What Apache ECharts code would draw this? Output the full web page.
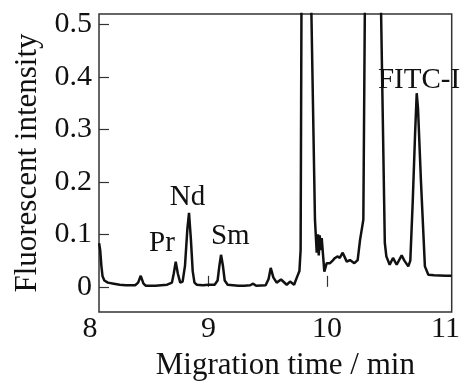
<!DOCTYPE html>
<html>
<head>
<meta charset="utf-8">
<script src="https://cdn.jsdelivr.net/npm/echarts@6/dist/echarts.min.js"></script>
<style>
  html, body { margin: 0; padding: 0; background: #fff; }
  #chart { width: 463px; height: 386px; }
</style>
</head>
<body>
<div id="chart"></div>
<script>
// migration time (min) and fluorescent intensity
const timeMin = [
  8.076, 8.085, 8.095, 8.105, 8.12, 8.15, 8.2, 8.25, 8.3, 8.38,
  8.405, 8.427, 8.45, 8.47, 8.55, 8.65, 8.69, 8.705, 8.722, 8.74,
  8.76, 8.78, 8.8, 8.82, 8.834, 8.85, 8.865, 8.88, 8.9, 8.95,
  9.0, 9.05, 9.075, 9.09, 9.104, 9.12, 9.135, 9.16, 9.25, 9.3,
  9.35, 9.375, 9.4, 9.48, 9.505, 9.523, 9.545, 9.573, 9.61, 9.658,
  9.686, 9.72, 9.742, 9.765, 9.775, 9.788, 9.85, 9.86, 9.896, 9.911,
  9.922, 9.928, 9.936, 9.945, 9.953, 9.975, 9.995, 10.023, 10.045, 10.065,
  10.088, 10.105, 10.13, 10.164, 10.191, 10.228, 10.256, 10.276, 10.304, 10.322,
  10.335, 10.44, 10.448, 10.485, 10.498, 10.526, 10.554, 10.585, 10.627, 10.65,
  10.683, 10.7, 10.72, 10.74, 10.754, 10.765, 10.79, 10.823, 10.852, 10.9,
  11.0, 11.049
];
const intensity = [
  0.083, 0.07, 0.04, 0.02, 0.012, 0.008, 0.006, 0.004, 0.003, 0.003,
  0.008, 0.021, 0.006, 0.002, 0.002, 0.004, 0.008, 0.025, 0.048, 0.025,
  0.008, 0.01, 0.04, 0.11, 0.141, 0.09, 0.03, 0.008, 0.004, 0.003,
  0.004, 0.004, 0.012, 0.04, 0.061, 0.04, 0.012, 0.004, 0.002, 0.002,
  0.003, 0.006, 0.002, 0.003, 0.015, 0.036, 0.018, 0.008, 0.014, 0.004,
  0.01, 0.004, 0.017, 0.03, 0.07, 0.9, 0.9, 0.6, 0.128, 0.065,
  0.1, 0.06, 0.098, 0.07, 0.093, 0.029, 0.045, 0.045, 0.05, 0.055,
  0.058, 0.055, 0.065, 0.048, 0.051, 0.045, 0.051, 0.089, 0.128, 0.7,
  0.9, 0.9, 0.6, 0.084, 0.058, 0.042, 0.055, 0.042, 0.06, 0.05,
  0.039, 0.05, 0.16, 0.29, 0.369, 0.34, 0.2, 0.039, 0.023, 0.022,
  0.021, 0.021
];

// peak annotations
const peakNames = ['Pr', 'Nd', 'Sm', 'FITC-I'];
const peakX = [8.606, 8.821, 9.182, 10.773];
const peakY = [0.082, 0.171, 0.097, 0.394];

const xTickLabels = [8, 9, 10, 11];
const xTicks = [9, 10];
const yTicks = [0, 0.1, 0.2, 0.3, 0.4, 0.5];

const serif = 'Liberation Serif';
const ink = '#111';

const chart = echarts.init(document.getElementById('chart'));
chart.setOption({
  animation: false,
  grid: [
    {
      left: 99, right: 11.3, top: 14, bottom: 74,
      show: true, borderColor: '#333', borderWidth: 1.5, backgroundColor: 'transparent',
    },
    // label-only axis, so "8" can sit left of the frame
    { left: 90.1, right: 17.1, top: 14, bottom: 74 },
  ],
  xAxis: [
    {
      gridIndex: 0, type: 'value', min: 8.075, max: 11.049,
      axisLine: { show: false },
      splitLine: { show: false },
      axisLabel: { show: false },
      axisTick: {
        show: true, inside: true, length: 11, customValues: xTicks,
        lineStyle: { color: '#333', width: 1.2 },
      },
    },
    {
      gridIndex: 1, type: 'value', min: 8, max: 11,
      axisLine: { show: false },
      splitLine: { show: false },
      axisTick: { show: false },
      axisLabel: {
        customValues: xTickLabels, margin: 15,
        fontFamily: serif, fontSize: 30, color: ink,
      },
      name: 'Migration time / min',
      nameLocation: 'middle',
      nameGap: 51,
      nameTextStyle: { fontFamily: serif, fontSize: 31, color: ink, padding: [0, 0, 0, 35] },
    },
  ],
  yAxis: [
    {
      gridIndex: 0, type: 'value', min: -0.048, max: 0.52,
      axisLine: { show: false },
      splitLine: { show: false },
      axisTick: {
        show: true, inside: true, length: 10, customValues: yTicks,
        lineStyle: { color: '#333', width: 1.2 },
      },
      axisLabel: {
        customValues: yTicks, margin: 7,
        fontFamily: serif, fontSize: 30, color: ink,
        formatter: (v) => (v === 0 ? '0' : v.toFixed(1)),
      },
      name: 'Fluorescent intensity',
      nameLocation: 'middle',
      nameGap: 56,
      nameTextStyle: { fontFamily: serif, fontSize: 31, color: ink },
    },
    { gridIndex: 1, type: 'value', show: false },
  ],
  series: [
    {
      type: 'line',
      xAxisIndex: 0,
      yAxisIndex: 0,
      symbol: 'none',
      silent: true,
      lineStyle: { color: ink, width: 2.5 },
      data: timeMin.map((t, i) => [t, intensity[i]]),
    },
    {
      type: 'scatter',
      xAxisIndex: 0,
      yAxisIndex: 0,
      silent: true,
      symbolSize: 1,
      itemStyle: { color: '#fff', opacity: 0 },
      label: {
        show: true, position: 'inside',
        fontFamily: serif, fontSize: 29, color: ink,
        textBorderWidth: 0, opacity: 1,
        formatter: (p) => p.data[2],
      },
      data: peakNames.map((n, i) => [peakX[i], peakY[i], n]),
    },
  ],
});
</script>
</body>
</html>
